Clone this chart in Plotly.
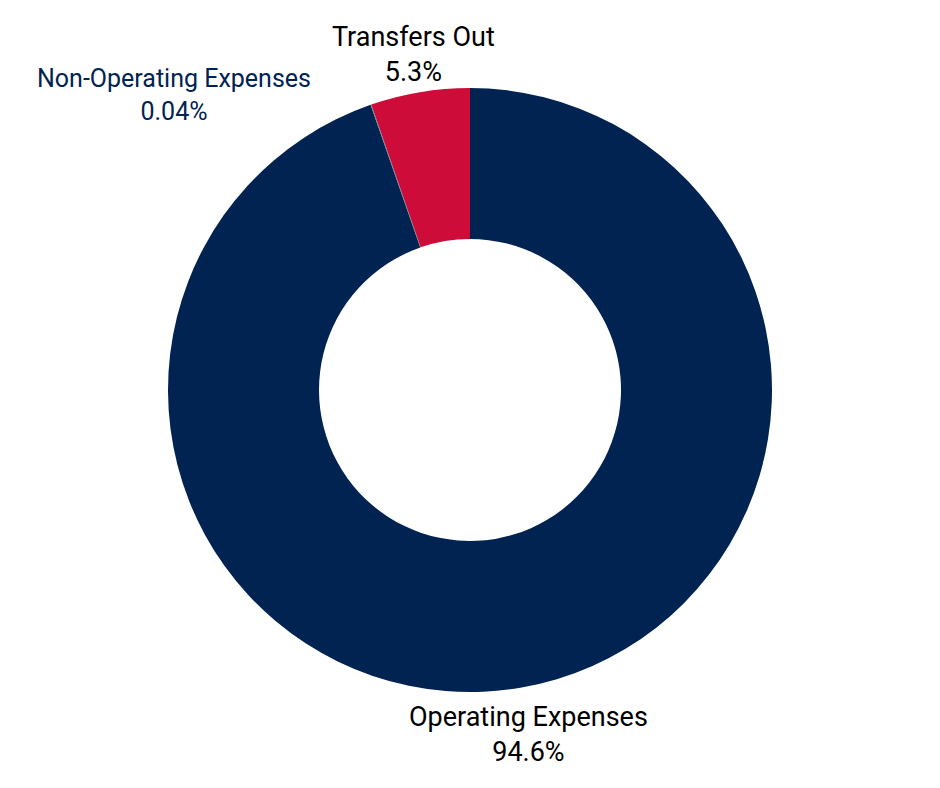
import plotly.graph_objects as go

labels = ["Operating Expenses", "Non-Operating Expenses", "Transfers Out"]
values = [94.66, 0.04, 5.30]
pct_text = ["94.6%", "0.04%", "5.3%"]
colors = ["#002352", "#3A8C8C", "#CE0C3A"]
label_colors = ["#000000", "#002352", "#000000"]
label_sizes = [27, 25, 27]
# label anchor points (pixels in the 940x788 canvas)
label_x = [528, 174, 413]
label_y = [734, 95, 54]

W, H = 940, 788
OFF = 8  # the page body adds an 8px margin, shift everything back by that

fig = go.Figure(
    go.Pie(
        labels=labels,
        values=values,
        textinfo="none",
        hole=0.5,
        sort=False,
        direction="clockwise",
        marker={"colors": colors, "line": {"width": 0}},
        domain={
            "x": [0, (W - 2 * OFF) / W],
            "y": [1 - (692 - OFF) / H, 1 - (88 - OFF) / H],
        },
        showlegend=False,
        hoverinfo="label+percent",
    )
)

for name, pct, col, size, x, y in zip(labels, pct_text, label_colors, label_sizes, label_x, label_y):
    fig.add_annotation(
        x=(x - OFF) / W,
        y=1 - (y - OFF) / H,
        xref="paper",
        yref="paper",
        text=f"{name}<br>{pct}",
        showarrow=False,
        font={"color": col, "size": size, "family": "Roboto"},
        xanchor="center",
        yanchor="middle",
    )

fig.update_layout(
    width=W,
    height=H,
    margin={"l": 0, "r": 0, "t": 0, "b": 0},
    paper_bgcolor="white",
    font={"family": "Roboto", "size": 20},
)
fig.write_html("out.html")
